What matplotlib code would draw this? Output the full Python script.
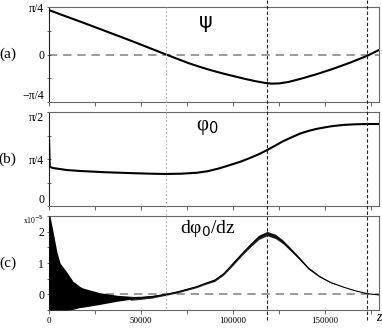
import numpy as np
import matplotlib
matplotlib.use("Agg")
import matplotlib.pyplot as plt
from matplotlib.lines import Line2D
from matplotlib.transforms import blended_transform_factory

plt.rcParams["font.family"] = ["Liberation Serif", "DejaVu Serif"]

# panel (a): psi(z)
psi_z = [0, 3000, 20000, 44000, 63600, 70000, 76000, 82000, 88000, 94000,
         100000, 106000, 112000, 117000, 121000, 125000, 130000, 137000,
         146000, 155000, 164000, 173000, 179300]
psi = [0.735, 0.70, 0.51, 0.234, 0.0, -0.075, -0.145, -0.205, -0.26, -0.31,
       -0.355, -0.40, -0.44, -0.468, -0.482, -0.478, -0.455, -0.40,
       -0.32, -0.23, -0.13, -0.02, 0.075]

# panel (b): phi_0(z)
phi0_z = [0, 400, 2000, 10000, 17000, 30000, 44000, 55000, 63600, 72000,
          80400, 86000, 92000, 98400, 104000, 109000, 114000, 118500,
          123000, 127000, 132000, 136400, 141000, 145600, 150000, 154000,
          160000, 166000, 172800, 179300]
phi0 = [1.14, 0.66, 0.635, 0.60, 0.585, 0.565, 0.55, 0.54, 0.535, 0.54,
        0.556, 0.58, 0.625, 0.685, 0.74, 0.80, 0.865, 0.935,
        1.01, 1.08, 1.15, 1.21, 1.255, 1.29, 1.315, 1.335,
        1.355, 1.365, 1.37, 1.37]

# panel (c): d phi_0 / dz, units of 1e-5
# oscillating start, given as upper / lower envelope
osc_z = [0, 500, 2200, 4300, 6000, 9800, 13000, 16800, 18500, 27700,
         37000, 44000, 50000, 56500]
osc_hi = [2.5, 2.5, 2.0, 1.35, 1.0, 0.7, 0.42, 0.25, 0.2, 0.05,
          -0.03, -0.06, -0.09, -0.1]
osc_lo = [-0.5, -0.5, -0.5, -0.5, -0.5, -0.5, -0.48, -0.42, -0.41, -0.32,
          -0.22, -0.16, -0.13, -0.11]
# smooth part with its noise half-width
dphi_z = [44000, 50000, 56500, 63600, 70000, 75000, 80000, 85000, 90000,
          95000, 100000, 105000, 110000, 114000, 118500, 123000, 127000,
          131000, 136000, 141000, 147000, 153000, 160000, 166000, 173000, 179300]
dphi = [-0.13, -0.11, -0.07, 0.0, 0.08, 0.16, 0.24, 0.35, 0.45, 0.66, 0.98,
        1.3, 1.6, 1.82, 1.94, 1.85, 1.68, 1.45, 1.15, 0.83, 0.57, 0.38, 0.23,
        0.12, 0.02, -0.02]
dphi_noise = [0.06, 0.05, 0.04, 0.03, 0.03, 0.03, 0.03, 0.03, 0.04, 0.04,
              0.05, 0.05, 0.06, 0.07, 0.07, 0.07, 0.06, 0.05, 0.04, 0.03,
              0.02, 0.01, 0.0, 0.0, 0.0, 0.0]

z_gray = 63600
z_marks = [118500, 172800]
z_max = 179300

fig = plt.figure(figsize=(3.82, 3.28), dpi=100)
L, W = 49 / 382, 330 / 382
ax_a = fig.add_axes([L, 1 - 102 / 328, W, 95 / 328])
ax_b = fig.add_axes([L, 1 - 206 / 328, W, 94 / 328])
ax_c = fig.add_axes([L, 1 - 310 / 328, W, 94 / 328])

dash_kw = dict(color="#8a8a8a", lw=1.2, dashes=(5, 3.5), zorder=1)

for ax in (ax_a, ax_b, ax_c):
    ax.set_xlim(0, z_max)
    ax.set_xticks([0, 50000, 100000, 150000])
    ax.set_xticks(np.arange(0, z_max, 25000), minor=True)
    ax.tick_params(axis="x", which="both", direction="out", length=3,
                   width=0.6, color="#555555", labelsize=6.5, pad=2)
    ax.tick_params(axis="y", which="both", direction="inout", length=3,
                   width=0.6, color="#555555", labelsize=8.5, pad=2)
    for s in ax.spines.values():
        s.set_color("#666666")
        s.set_linewidth(0.8)
    ax.spines["left"].set_color("#222222")

# (a)
ax_a.plot(psi_z, psi, color="black", lw=1.5, zorder=3)
ax_a.axhline(0, **dash_kw)
ax_a.set_ylim(-np.pi / 4, np.pi / 4)
ax_a.set_yticks([-np.pi / 4, 0, np.pi / 4], ["\u2212\u03c0/4", "0", "\u03c0/4"])
ax_a.set_yticks([-np.pi / 8, np.pi / 8], minor=True)
ax_a.get_yticklabels()[0].set_va("bottom")
ax_a.tick_params(axis="x", labelbottom=False)
ax_a.text(0.475, 0.84, "\u03c8", transform=ax_a.transAxes, ha="center",
          va="center", fontsize=15, family="DejaVu Sans")

# (b)
ax_b.plot(phi0_z, phi0, color="black", lw=1.5, zorder=3)
ax_b.set_ylim(0, np.pi / 2)
ax_b.set_yticks([0, np.pi / 4, np.pi / 2], ["0", "\u03c0/4", "\u03c0/2"])
ax_b.set_yticks([np.pi / 8, 3 * np.pi / 8], minor=True)
ax_b.get_yticklabels()[2].set_va("top")
ax_b.get_yticklabels()[0].set_va("bottom")
ax_b.tick_params(axis="x", labelbottom=False)
ax_b.text(0.48, 0.84, "\u03c6$_0$", transform=ax_b.transAxes, ha="center",
          va="center", fontsize=15)

# (c)
ax_c.axhline(0, **dash_kw)
ax_c.fill_between(osc_z, osc_lo, osc_hi, color="black", lw=0, zorder=3)
lo = np.array(dphi) - np.array(dphi_noise)
hi = np.array(dphi) + np.array(dphi_noise)
ax_c.fill_between(dphi_z, lo, hi, color="#222222", lw=0, zorder=3)
ax_c.plot(dphi_z, dphi, color="black", lw=0.8, zorder=4)
ax_c.set_ylim(-0.5, 2.5)
ax_c.set_yticks([0, 1, 2])
ax_c.set_yticks(np.arange(-0.5, 2.6, 0.5), minor=True)
ax_c.text(0.48, 0.87, "d\u03c6$_0$/dz", transform=ax_c.transAxes,
          ha="center", va="center", fontsize=14)
ax_c.text(-0.015, 0.955, "x10$^{-5}$", transform=ax_c.transAxes, ha="right",
          va="center", fontsize=5.5)
ax_c.text(1.0, -0.08, "z", transform=ax_c.transAxes, ha="center",
          va="center", fontsize=10, style="italic")

# panel letters
for ax, lab in ((ax_a, "(a)"), (ax_b, "(b)"), (ax_c, "(c)")):
    ax.text(-0.125, 0.5, lab, transform=ax.transAxes, ha="center",
            va="center", fontsize=11)

# vertical reference lines across panels
tr = blended_transform_factory(ax_c.transData, fig.transFigure)
fig.add_artist(Line2D([z_gray, z_gray], [1 - 7 / 328, 1 - 310 / 328],
                      transform=tr, color="#b5b5b5", lw=0.7,
                      dashes=(2, 2), zorder=5))
for zm in z_marks:
    fig.add_artist(Line2D([zm, zm], [1.0, 1 - 322 / 328], transform=tr,
                          color="#222222", lw=0.8, dashes=(3, 2), zorder=5))

fig.savefig("out.png", dpi=100)
